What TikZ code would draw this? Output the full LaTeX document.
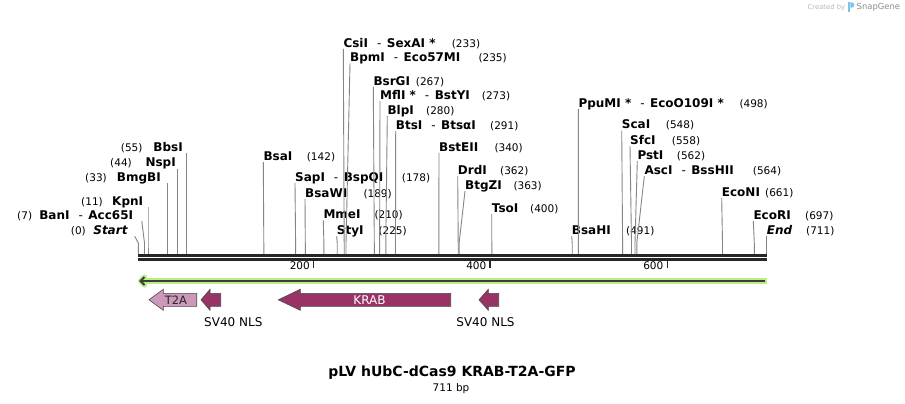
\documentclass[tikz,border=0pt]{standalone}
\usepackage{fontspec}
\setmainfont{DejaVu Sans}
\usetikzlibrary{arrows.meta}
\definecolor{krab}{HTML}{993366}
\definecolor{tta}{HTML}{CC99BB}
\definecolor{gband}{HTML}{B8EE84}
\definecolor{sline}{HTML}{858585}
\definecolor{bbone}{HTML}{262626}
\definecolor{fborder}{HTML}{4A4A4A}
\definecolor{logoblue}{HTML}{7CC4EC}
\newcommand\mydash{\hspace{9pt}{\mdseries -}\hspace{5.5pt}}
\newcommand\rlab[7]{%
  \coordinate (s#1) at (#7,254);
  \coordinate (k#1) at (#7,243);
  \node[nm, anchor=base west] (#1) at (#2,#3+4.5) {#4};
  \node[num, anchor=base west] (#1n) at (#5,#3+4.5) {(#6)};
  \draw[siteline] (#1.south west) -- (k#1) -- (s#1);
}
\newcommand\llab[8]{%
  \coordinate (s#1) at (#7,254);
  \coordinate (k#1) at (#7,243);
  \node[nm, anchor=base east] (#1) at (#2,#3+4.5) {#4};
  \node[num, anchor=base east] (#1n) at (#5,#3+4.5) {(#6)};
  \draw[siteline] ([xshift=#8pt]#1.south east) -- (k#1) -- (s#1);
}
\newcommand\featarrow[5]{% tip x, head base x, right x, fill, name
  \filldraw[fill=#4, draw=fborder, line width=0.6pt] (#1,299.8) -- (#2,289.3) -- (#2,293.3) -- (#3,293.3)
    -- (#3,306.3) -- (#2,306.3) -- (#2,310.3) -- cycle;
}
\tikzset{
  nm/.style={inner sep=0pt, font=\fontsize{12}{14}\selectfont\bfseries, text depth=1.5pt, text height=9pt},
  num/.style={inner sep=0pt, font=\fontsize{10.5}{12}\selectfont, text depth=1.5pt},
  siteline/.style={draw=sline, line width=0.9pt},
  bbline/.style={draw=bbone, line width=2.4pt},
  tickline/.style={draw=bbone, line width=1.7pt},
  featlbl/.style={inner sep=0pt, font=\fontsize{12}{14}\selectfont},
}
\begin{document}
\begin{tikzpicture}[x=1pt,y=-1pt]
\fill[white] (0,0) rectangle (905,404);
\useasboundingbox (0,0) rectangle (905,404);

% backbone
\coordinate (bbl1) at (138.3,255.5);
\coordinate (bbr1) at (766.7,255.5);
\coordinate (bbl2) at (138.3,259.5);
\coordinate (bbr2) at (766.7,259.5);
\draw[bbline] (bbl1) -- (bbr1);
\draw[bbline] (bbl2) -- (bbr2);

% ticks
\coordinate (t200a) at (313.5,260.5); \coordinate (t200b) at (313.5,268);
\coordinate (t400a) at (490.2,260.5); \coordinate (t400b) at (490.2,268);
\coordinate (t600a) at (667.5,260.5); \coordinate (t600b) at (667.5,268);
\draw[tickline] (t200a) -- (t200b);
\draw[tickline] (t400a) -- (t400b);
\draw[tickline] (t600a) -- (t600b);
\node[num, anchor=east] (l200) at (310,266.7) {200};
\node[num, anchor=east] (l400) at (486.5,266.7) {400};
\node[num, anchor=east] (l600) at (663.5,266.7) {600};

% left labels
\llab{start}{127.7}{230}{\itshape Start}{86}{0}{138.3}{7}
\llab{bani}{133.3}{215}{BanI\mydash Acc65I}{32.3}{7}{144.5}{8.5}
\llab{kpni}{143.3}{201}{KpnI}{103}{11}{148.0}{4.7}
\llab{bmgbi}{161}{176.7}{BmgBI}{107}{33}{167.5}{6.5}
\llab{nspi}{176}{162.3}{NspI}{132}{44}{177.2}{1.2}
\llab{bbsi}{183}{146.7}{BbsI}{142.7}{55}{186.9}{3.9}

% right labels
\rlab{bsai}{263.3}{156}{BsaI}{306.7}{142}{263.8}
\rlab{sapi}{295}{176.7}{SapI\mydash BspQI}{401.7}{178}{295.6}
\rlab{bsawi}{305}{192.7}{BsaWI}{363.3}{189}{305.3}
\rlab{mmei}{323.3}{214.3}{MmeI}{374.3}{210}{323.9}
\rlab{styi}{336.7}{230}{StyI}{378.3}{225}{337.2}
\rlab{csii}{343.3}{42.7}{CsiI\mydash SexAI *}{451.7}{233}{344.2}
\rlab{bpmi}{350}{57.3}{BpmI\mydash Eco57MI}{478.3}{235}{346.0}
\rlab{bsrgi}{373.3}{80.7}{BsrGI}{415.7}{267}{374.3}
\rlab{mfli}{380}{95}{MflI *\mydash BstYI}{481.7}{273}{379.6}
\rlab{blpi}{387.3}{110}{BlpI}{426}{280}{385.8}
\rlab{btsi}{395.7}{125}{BtsI\mydash BtsαI}{490}{291}{395.5}
\rlab{bsteii}{439}{146.7}{BstEII}{494.3}{340}{438.8}
\rlab{drdi}{457.7}{170}{DrdI}{500}{362}{458.2}
\rlab{btgzi}{465}{185}{BtgZI}{513.3}{363}{459.1}
\rlab{tsoi}{491.7}{207.7}{TsoI}{530}{400}{491.8}
\rlab{bsahi}{571.7}{230}{BsaHI}{626}{491}{572.2}
\rlab{ppumi}{578.3}{102.7}{PpuMI *\mydash EcoO109I *}{739.3}{498}{578.4}
\rlab{scai}{621.7}{124.3}{ScaI}{665.7}{548}{622.6}
\rlab{sfci}{630}{140}{SfcI}{671.7}{558}{631.5}
\rlab{psti}{637.3}{155}{PstI}{676.7}{562}{635.0}
\rlab{asci}{644.3}{170}{AscI\mydash BssHII}{752.7}{564}{636.8}
\rlab{econi}{721.7}{191.7}{EcoNI}{765}{661}{722.5}
\rlab{ecori}{753.3}{215}{EcoRI}{805}{697}{754.3}
\rlab{endl}{766.7}{230}{\itshape End}{806}{711}{766.7}

% green ORF arrow
\coordinate (gl) at (140.5,281);
\coordinate (gr) at (766.7,281);
\coordinate (gbt) at (144.5,277);
\coordinate (gbb) at (144.5,285);
\draw[gband, line width=5pt, line join=round, line cap=round] (gbt) -- (gl) -- (gbb);
\draw[gband, line width=5.5pt] (gl) -- (gr);
\draw[bbone!90, line width=1.8pt, line join=miter] (gbt) -- (gl) -- (gbb);
\draw[bbone!90, line width=2.2pt] (gl) -- ([xshift=-1.5pt]gr);

% features
\featarrow{149}{163.3}{196.7}{tta}{t2a}
\featarrow{201}{210}{220.7}{krab}{nls1}
\featarrow{278.3}{300.3}{450.7}{krab}{krabf}
\featarrow{479}{488.3}{498.7}{krab}{nls2}
\node[featlbl, font=\fontsize{11.5}{13}\selectfont, text=black!85] (t2al) at (176,300.3) {T2A};
\node[featlbl, text=white] (krabl) at (369.5,300.5) {KRAB};
\node[featlbl] (nls1l) at (233.3,322.5) {SV40 NLS};
\node[featlbl] (nls2l) at (485.5,322.5) {SV40 NLS};

% title
\node[inner sep=0pt, font=\fontsize{14}{16}\selectfont\bfseries] (title) at (452,373) {pLV hUbC-dCas9 KRAB-T2A-GFP};
\node[inner sep=0pt, font=\fontsize{10.5}{12}\selectfont] (bp) at (451,388.5) {711 bp};

% credit
\node[inner sep=0pt, anchor=west, text=black!28, font=\fontsize{6.8}{8}\selectfont] (cby) at (807.5,7.3) {Created by};
\fill[logoblue] (848,2.3) rectangle (850.3,12);
\fill[logoblue] (850.3,2.3) -- (851.8,2.3) to[out=0,in=90] (854.3,5) to[out=-90,in=0] (851.8,7.6) -- (850.3,7.6) -- cycle;
\node[inner sep=0pt, anchor=west, text=black!45, font=\fontsize{8.4}{10}\selectfont] (sg) at (856.5,7.3) {SnapGene};
\end{tikzpicture}
\end{document}
